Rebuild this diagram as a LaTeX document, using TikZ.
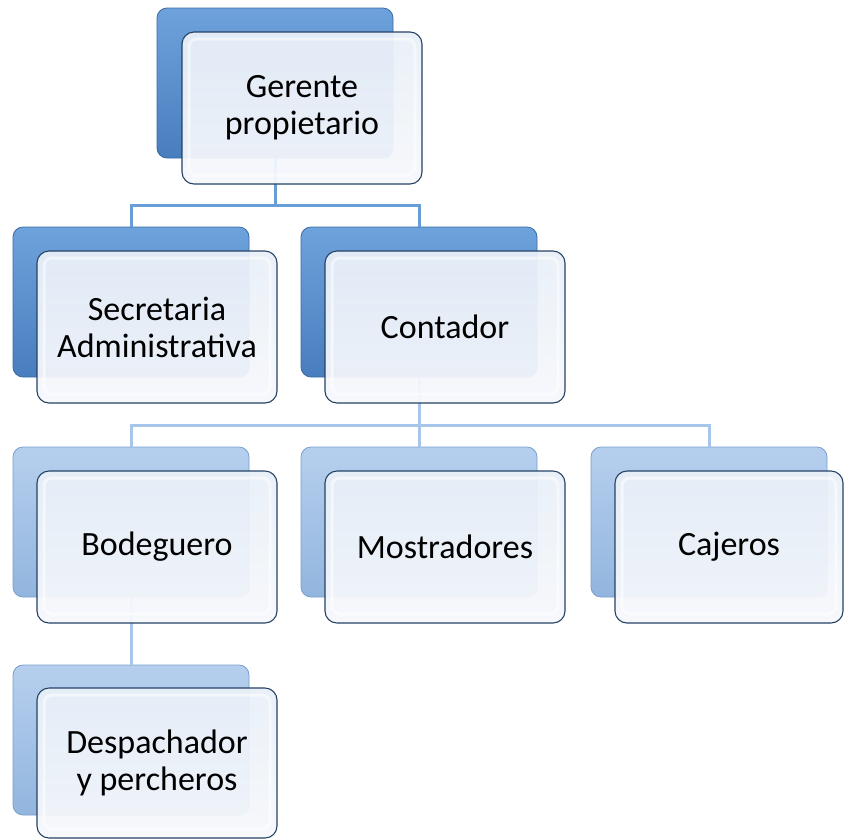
\documentclass[tikz,border=0pt]{standalone}
\usepackage{fontspec}
\setmainfont{Carlito}
\definecolor{deepblue}{RGB}{72, 126, 190}
\definecolor{deeptop}{RGB}{110, 162, 220}
\definecolor{deepedge}{RGB}{58, 106, 163}
\definecolor{paleblue}{RGB}{146, 181, 222}
\definecolor{paletop}{RGB}{182, 207, 238}
\definecolor{paleedge}{RGB}{120, 158, 204}
\definecolor{frontbg}{RGB}{232, 239, 248}
\definecolor{frontlow}{RGB}{246, 248, 252}
\definecolor{frontedge}{RGB}{38, 66, 100}
\definecolor{linkdeep}{RGB}{104, 158, 216}
\definecolor{linkpale}{RGB}{168, 198, 234}
\usepackage{tikz}
\usetikzlibrary{positioning, calc}

\tikzset{
  backdeep/.style={draw=deepedge, top color=deeptop, bottom color=deepblue, rounded corners=10pt,
    minimum width=236pt, minimum height=150pt, outer sep=0pt, line width=0.8pt},
  backpale/.style={draw=paleedge, top color=paletop, bottom color=paleblue, rounded corners=10pt,
    minimum width=236pt, minimum height=150pt, outer sep=0pt, line width=0.8pt},
  frontbox/.style={draw=frontedge, top color=frontbg, bottom color=frontlow, fill opacity=0.95,
    text opacity=1, rounded corners=12pt, minimum width=240pt, minimum height=152pt, outer sep=0pt,
    line width=1.1pt, align=center, text=black, font=\fontsize{34}{37}\selectfont,
    path picture={\draw[white, line width=3pt, rounded corners=8pt, opacity=0.55]
      ([shift={(7,7)}]path picture bounding box.north west) rectangle
      ([shift={(-7,-9)}]path picture bounding box.south east);}},
  linkup/.style={draw=linkdeep, line width=3pt},
  linklow/.style={draw=linkpale, line width=3pt}
}

\begin{document}
\begin{tikzpicture}[x=1pt, y={(0pt,-1pt)}]
  \useasboundingbox (0,0) rectangle (845,839);

  % Back plates, upper levels
  \node[backdeep] (gerB) at (275, 83) {};
  \node[backdeep] (secB) at (131, 302) {};
  \node[backdeep] (conB) at (419, 302) {};

  % Back plates, lower levels
  \node[backpale] (bodB) at (131, 522) {};
  \node[backpale] (mosB) at (419, 522) {};
  \node[backpale] (cajB) at (709, 522) {};
  \node[backpale] (desB) at (131, 740) {};

  % Connectors
  \draw[linkup] (gerB.south) -- ++(0,47) -| (secB.north);
  \draw[linkup] (gerB.south) -- ++(0,47) -| (conB.north);
  \draw[linklow] (conB.south) -- ++(0,48) -| (bodB.north);
  \draw[linklow] (conB.south) -- ++(0,48) -| (cajB.north);
  \draw[linklow] (conB.south) -- (mosB.north);
  \draw[linklow] (bodB.south) -- (desB.north);

  % Front cards
  \node[frontbox] (ger) at (302, 108) {Gerente\\propietario};
  \node[frontbox] (sec) at (157, 327) {Secretaria\\Administrativa};
  \node[frontbox] (con) at (445, 327) {Contador};
  \node[frontbox] (bod) at (157, 547) {Bodeguero};
  \node[frontbox] (mos) at (445, 547) {Mostradores};
  \node[frontbox, minimum width=228pt] (caj) at (729, 547) {Cajeros};
  \node[frontbox, minimum height=150pt] (des) at (157, 763) {Despachador\\y percheros};
\end{tikzpicture}
\end{document}
